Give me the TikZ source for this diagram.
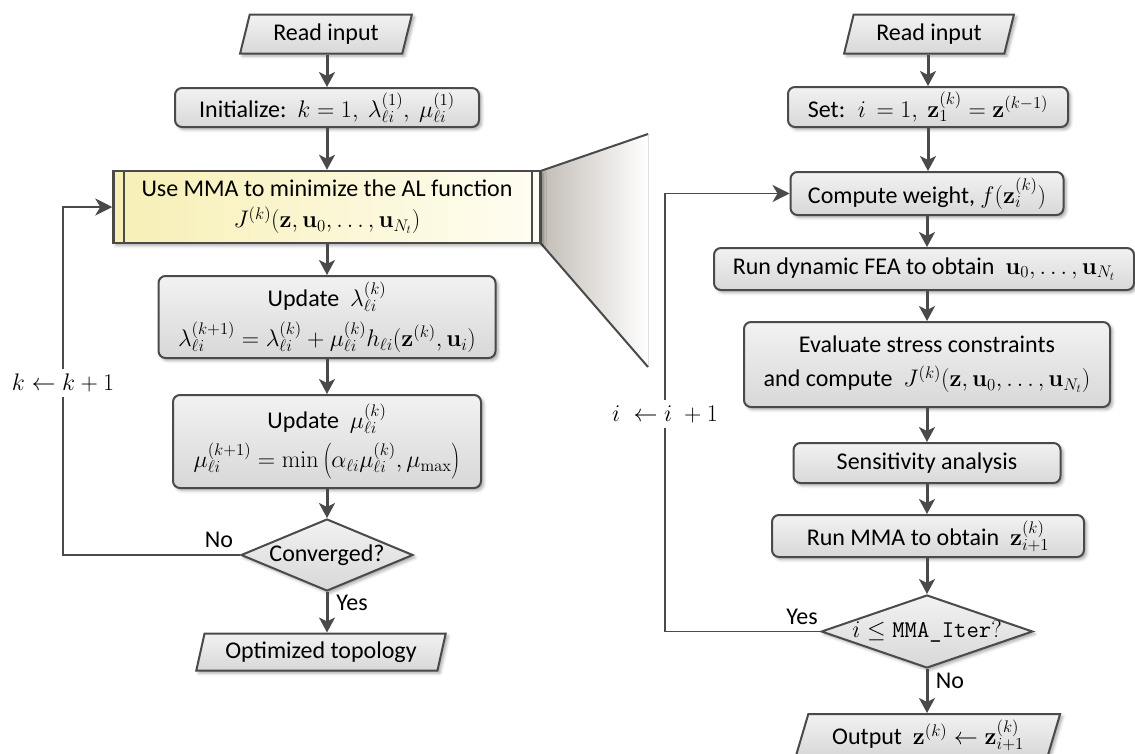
\RequirePackage{fix-cm}
\documentclass[tikz,border=0pt]{standalone}
\usepackage[no-math]{fontspec}
\setmainfont{Carlito}
\usetikzlibrary{shapes.geometric,arrows.meta,shadows.blur}
\definecolor{edgec}{HTML}{4A4A4A}
\definecolor{boxtop}{HTML}{F2F2F2}
\definecolor{boxbot}{HTML}{D8D8D8}
\definecolor{mmaL}{HTML}{F7EFB5}
\definecolor{mmaR}{HTML}{FFFDF2}
\definecolor{zoomgray}{HTML}{C2BCB5}
\begin{document}
\begin{tikzpicture}[x=1pt,y=-1pt,
  every node/.style={font=\fontsize{24}{29}\selectfont},
  shadowed/.style={blur shadow={shadow xshift=2.5pt,shadow yshift=-2.5pt,shadow blur radius=3pt,shadow opacity=35}},
  procbox/.style={draw=edgec,line width=2pt,rounded corners=7pt,top color=boxtop,bottom color=boxbot,align=center,inner sep=0pt,shadowed},
  iobox/.style={trapezium,trapezium left angle=72,trapezium right angle=108,trapezium stretches=true,draw=edgec,line width=2pt,top color=boxtop,bottom color=boxbot,inner sep=0pt,shadowed},
  decide/.style={diamond,draw=edgec,line width=2pt,top color=boxtop,bottom color=boxbot,inner sep=0pt,shadowed},
  flow/.style={draw=edgec,line width=3pt,-{Stealth[length=15pt,width=16pt,inset=4pt]}},
  back/.style={draw=edgec,line width=1.6pt,-{Stealth[length=17pt,width=17pt,inset=5pt]}},
  lbl/.style={fill=white,inner xsep=1pt,inner ysep=5pt}
]
\useasboundingbox (0,0) rectangle (1135,753);

% ---------- zoom wedge (behind) ----------
\coordinate (mmaNE) at (540.5,171);
\coordinate (mmaSE) at (540.5,243);
\coordinate (zt) at (648,134);
\coordinate (zb) at (648,367);
\fill[left color=zoomgray,right color=white] (mmaNE) -- (zt) -- (zb) -- (mmaSE) -- cycle;
\draw[edgec,line width=2pt] (mmaNE) -- (zt);
\draw[edgec,line width=2pt] (mmaSE) -- (zb);

% ---------- left column ----------
\node[iobox,minimum width=172pt,minimum height=39pt] (readL) at (326,34) {Read input};
\node[procbox,minimum width=304pt,minimum height=39pt] (initL) at (327,107.5)
  {Initialize:~~$k=1,\ \lambda_{\ell i}^{(1)},\ \mu_{\ell i}^{(1)}$};
\node[draw=edgec,line width=2.5pt,left color=mmaL,right color=mmaR,align=center,inner sep=0pt,
  minimum width=427pt,minimum height=72pt,shadowed] (mma) at (327,207)
  {Use MMA to minimize the AL function\\[2pt] $J^{(k)}(\mathbf{z},\mathbf{u}_0,\ldots,\mathbf{u}_{N_t})$};
\draw[edgec,line width=2pt] ([xshift=12pt]mma.north west) -- ([xshift=12pt]mma.south west);
\draw[edgec,line width=2pt] ([xshift=-10pt]mma.north east) -- ([xshift=-10pt]mma.south east);
\node[procbox,minimum width=337pt,minimum height=82pt] (updL) at (327,317)
  {Update~ $\lambda_{\ell i}^{(k)}$\\[9pt] $\lambda_{\ell i}^{(k+1)}=\lambda_{\ell i}^{(k)}+\mu_{\ell i}^{(k)}h_{\ell i}(\mathbf{z}^{(k)},\mathbf{u}_i)$};
\node[procbox,minimum width=308pt,minimum height=93pt] (updM) at (327,441.5)
  {Update~ $\mu_{\ell i}^{(k)}$\\[8pt] $\mu_{\ell i}^{(k+1)}=\min\left(\alpha_{\ell i}\mu_{\ell i}^{(k)},\mu_{\max}\right)$};
\node[decide,aspect=2.4,minimum width=172pt,minimum height=72pt] (conv) at (327,555) {Converged?};
\node[iobox,minimum width=250pt,minimum height=37pt] (opt) at (321,652) {Optimized topology};

\draw[flow] (readL.south -| initL.north) -- (initL.north);
\draw[flow] (initL.south) -- (mma.north);
\draw[flow] (mma.south) -- (updL.north);
\draw[flow] (updL.south) -- (updM.north);
\draw[flow] (updM.south) -- (conv.north);
\draw[flow] (conv.south) -- (conv.south |- opt.north);
\node (yesL) at (352,603) {Yes};
\node (noL) at (219,540) {No};

\coordinate (kx) at (63,400);
\draw[back] (conv.west) -| (kx) |- (mma.west);
\node[lbl] (klab) at (63,383) {$k\leftarrow k+1$};

% ---------- right column ----------
\node[iobox,minimum width=170pt,minimum height=39pt] (readR) at (929,34) {Read input};
\node[procbox,minimum width=280pt,minimum height=40pt] (setR) at (928,107)
  {Set:~ $i\,=1,\ \mathbf{z}_1^{(k)}=\mathbf{z}^{(k-1)}$};
\node[procbox,minimum width=273pt,minimum height=43pt] (cw) at (927,193.5)
  {Compute weight, $f(\mathbf{z}_i^{(k)})$};
\node[procbox,minimum width=420pt,minimum height=42pt] (fea) at (924,269)
  {Run dynamic FEA to obtain~ $\mathbf{u}_0,\ldots,\mathbf{u}_{N_t}$};
\node[procbox,minimum width=366pt,minimum height=85pt] (eval) at (927,364.5)
  {Evaluate stress constraints\\[5pt] and compute~ $J^{(k)}(\mathbf{z},\mathbf{u}_0,\ldots,\mathbf{u}_{N_t})$};
\node[procbox,minimum width=267pt,minimum height=40pt] (sens) at (927,463) {Sensitivity analysis};
\node[procbox,minimum width=312pt,minimum height=42pt] (rmma) at (928,536)
  {Run MMA to obtain~ $\mathbf{z}_{i+1}^{(k)}$};
\node[decide,aspect=2.9,minimum width=210pt,minimum height=73pt] (dia2) at (927,631.5)
  {$i\leq\texttt{MMA\_Iter}?$};
\node[iobox,minimum width=265pt,minimum height=42pt] (outR) at (928,735)
  {Output~ $\mathbf{z}^{(k)}\leftarrow\mathbf{z}_{i+1}^{(k)}$};

\draw[flow] (readR.south -| setR.north) -- (setR.north);
\draw[flow] (setR.south) -- (setR.south |- cw.north);
\draw[flow] (cw.south) -- (cw.south |- fea.north);
\draw[flow] (fea.south -| eval.north) -- (eval.north);
\draw[flow] (eval.south) -- (sens.north);
\draw[flow] (sens.south) -- (sens.south |- rmma.north);
\draw[flow] (rmma.south -| dia2.north) -- (dia2.north);
\draw[flow] (dia2.south) -- (dia2.south |- outR.north);
\node (yesR) at (802,617) {Yes};
\node (noR) at (950,681) {No};

\coordinate (ix) at (665,400);
\draw[back] (dia2.west) -| (ix) |- (cw.west);
\node[lbl] (ilab) at (665,414) {$i\;\leftarrow i\;+1$};
\end{tikzpicture}
\end{document}
